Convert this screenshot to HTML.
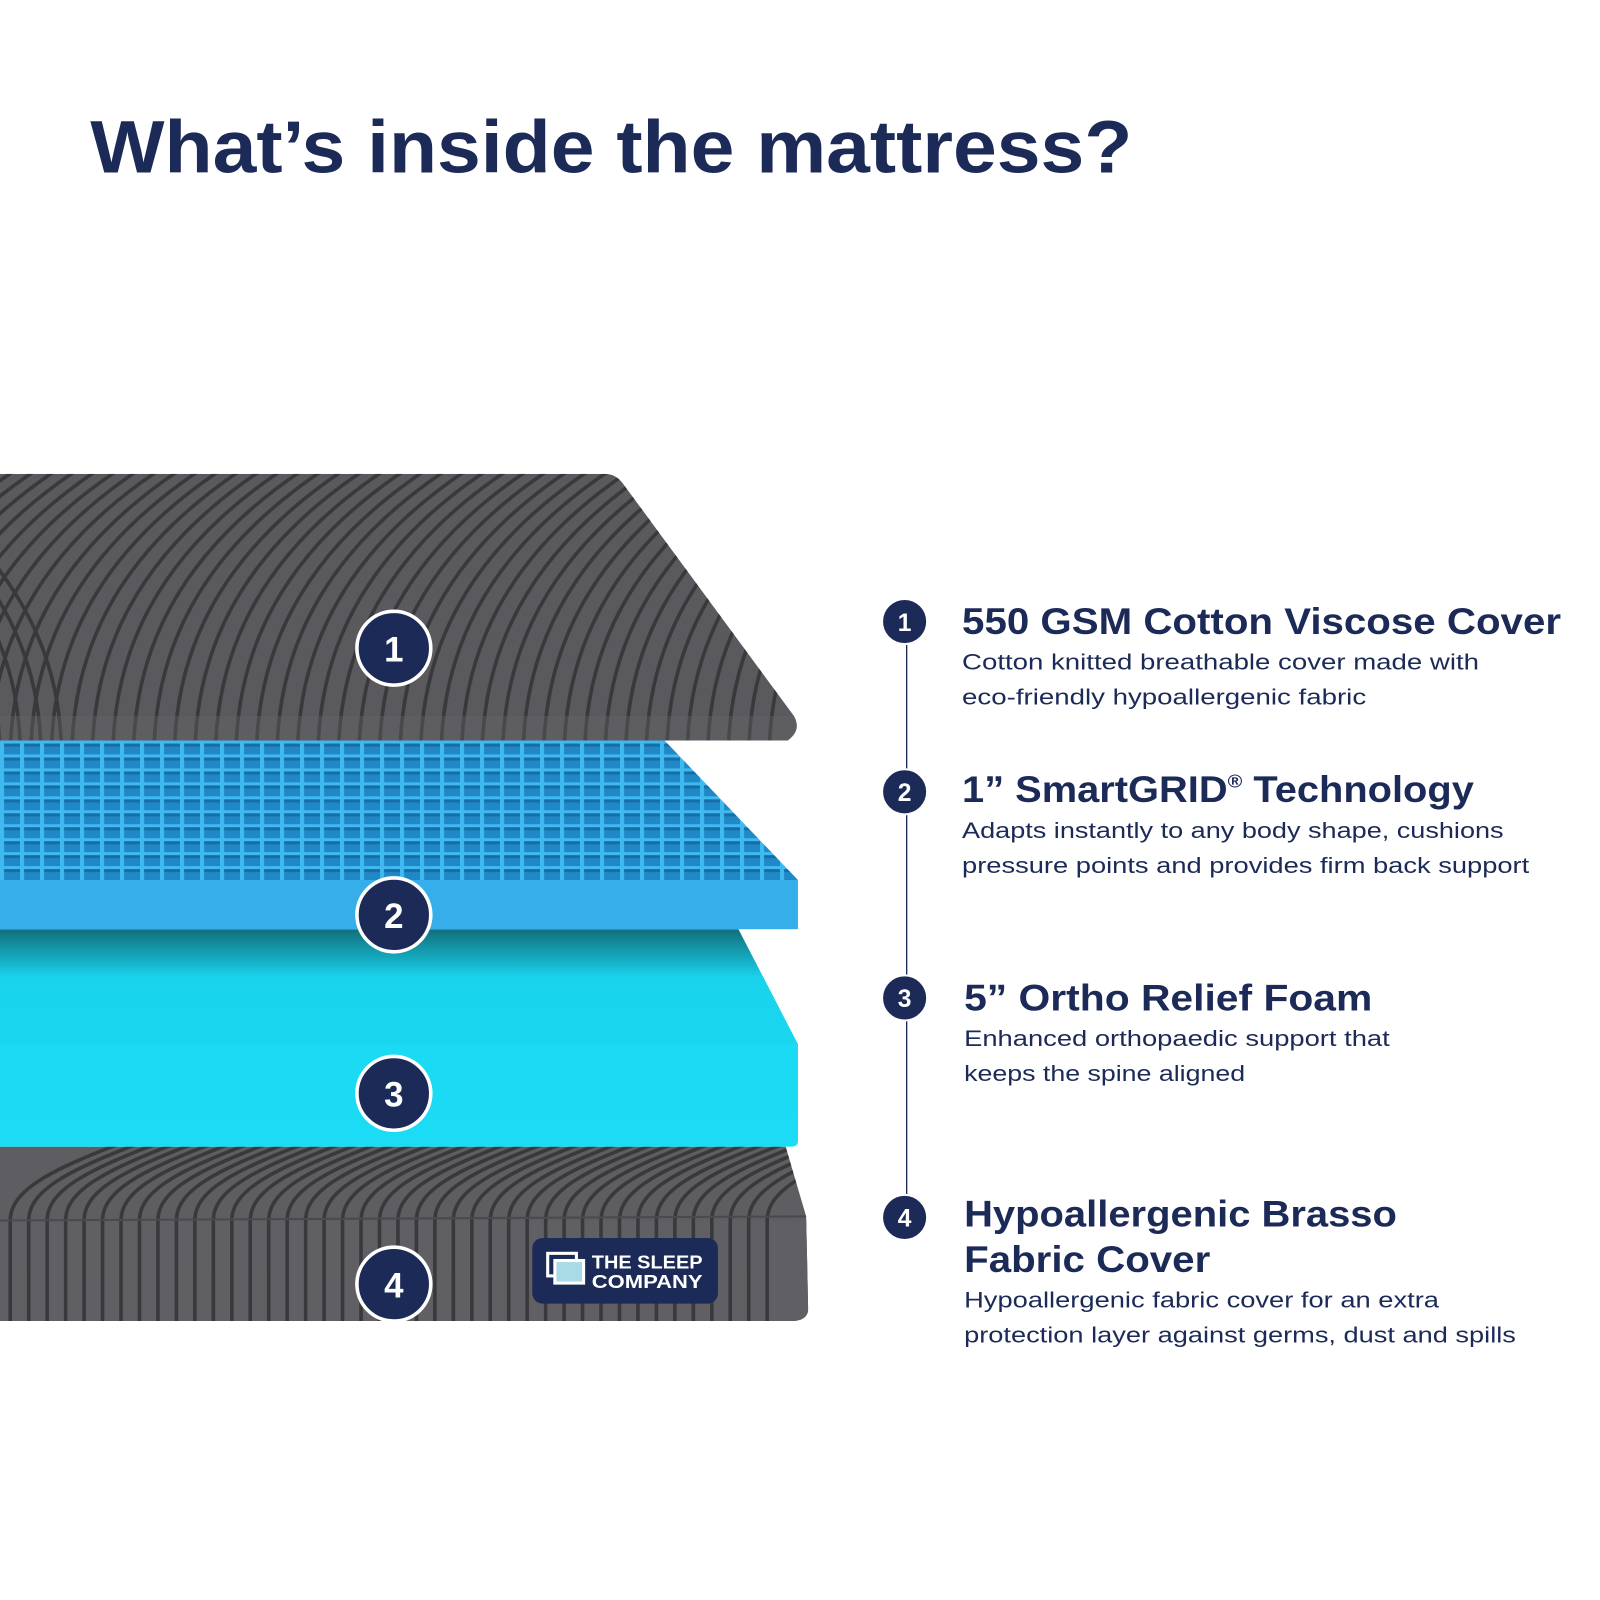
<!DOCTYPE html>
<html><head><meta charset="utf-8"><style>
html,body{margin:0;padding:0;background:#fff;width:1600px;height:1600px;overflow:hidden}
svg{display:block}
</style></head><body>
<svg width="1600" height="1600" viewBox="0 0 1560 1560" xmlns="http://www.w3.org/2000/svg" font-family="'Liberation Sans', sans-serif">
<defs>
  <pattern id="grid" width="19.5" height="13.6" patternUnits="userSpaceOnUse" x="0" y="722">
    <rect width="19.5" height="13.6" fill="#40b8f0"/>
    <rect x="4" y="3" width="15.5" height="10.6" fill="#2088c6"/>
    <rect x="4" y="3" width="15.5" height="3" fill="#176ea6"/>
  </pattern>
  <linearGradient id="foam" x1="0" y1="906" x2="0" y2="1118" gradientUnits="userSpaceOnUse">
    <stop offset="0" stop-color="#106f7c"/>
    <stop offset="0.13" stop-color="#15a8bd"/>
    <stop offset="0.22" stop-color="#19d3ec"/>
    <stop offset="1" stop-color="#1adcf4"/>
  </linearGradient>
  <clipPath id="c1"><path d="M0,462 L590,462 Q600,462 607,471 L774,698 Q782,712 768,722 L0,722 Z"/></clipPath>
  <clipPath id="c4"><path d="M0,1118 L766,1118 L786,1186 L788,1278 Q786,1288 772,1288 L0,1288 Z"/></clipPath>
  <path id="g" d="M0,740 C0,640 40,540 170,455" fill="none" stroke="#39393c" stroke-width="3.5"/>
  <path id="gr" d="M0,740 C0,650 -30,560 -160,455" fill="none" stroke="#39393c" stroke-width="3.5"/>
  <path id="h" d="M0,1300 L0,1190 C0,1160 40,1140 120,1110" fill="none" stroke="#39393c" stroke-width="3.5"/>
</defs>

<text x="88" y="168" font-size="72" font-weight="bold" fill="#1c2a57" textLength="1016" lengthAdjust="spacingAndGlyphs">What’s inside the mattress?</text>

<!-- Layer 4 -->
<g clip-path="url(#c4)">
  <rect x="0" y="1110" width="800" height="190" fill="#5e5e62"/>
  <rect x="0" y="1190" width="800" height="100" fill="#606064"/>
  <g>
    <use href="#h" x="10"/><use href="#h" x="28"/><use href="#h" x="46"/><use href="#h" x="64"/><use href="#h" x="82"/><use href="#h" x="100"/><use href="#h" x="118"/><use href="#h" x="136"/><use href="#h" x="154"/><use href="#h" x="172"/><use href="#h" x="190"/><use href="#h" x="208"/><use href="#h" x="226"/><use href="#h" x="244"/><use href="#h" x="262"/><use href="#h" x="280"/><use href="#h" x="298"/><use href="#h" x="316"/><use href="#h" x="334"/><use href="#h" x="352"/><use href="#h" x="370"/><use href="#h" x="388"/><use href="#h" x="406"/><use href="#h" x="424"/><use href="#h" x="442"/><use href="#h" x="460"/><use href="#h" x="478"/><use href="#h" x="496"/><use href="#h" x="514"/><use href="#h" x="532"/><use href="#h" x="550"/><use href="#h" x="568"/><use href="#h" x="586"/><use href="#h" x="604"/><use href="#h" x="622"/><use href="#h" x="640"/><use href="#h" x="658"/><use href="#h" x="676"/><use href="#h" x="694"/><use href="#h" x="712"/><use href="#h" x="730"/><use href="#h" x="748"/>
  </g>
  <line x1="0" y1="1190" x2="786" y2="1186" stroke="#4a4a4e" stroke-width="2"/>
</g>

<!-- Layer 3 -->
<path d="M0,906 L720,906 L778,1018 L778,1112 Q778,1118 772,1118 L0,1118 Z" fill="url(#foam)"/>
<path d="M0,1018 L778,1018 L778,1112 Q778,1118 772,1118 L0,1118 Z" fill="#1cdcf5" opacity="0.6"/>

<!-- Layer 2 -->
<path d="M0,722 L648,722 L778,858 L0,858 Z" fill="url(#grid)"/>
<rect x="0" y="858" width="778" height="48" fill="#36aeea"/>

<!-- Layer 1 -->
<g clip-path="url(#c1)">
  <rect x="0" y="450" width="800" height="280" fill="#5a5a5e"/>
  <use href="#gr" x="-20"/><use href="#gr" x="0"/><use href="#gr" x="20"/><use href="#gr" x="40"/><use href="#gr" x="60"/>
  <use href="#g" x="-170"/><use href="#g" x="-150"/><use href="#g" x="-130"/><use href="#g" x="-110"/><use href="#g" x="-90"/><use href="#g" x="-70"/><use href="#g" x="-50"/><use href="#g" x="-30"/><use href="#g" x="-10"/><use href="#g" x="10"/><use href="#g" x="30"/><use href="#g" x="50"/><use href="#g" x="70"/><use href="#g" x="90"/><use href="#g" x="110"/><use href="#g" x="130"/><use href="#g" x="150"/>
  <use href="#g" x="170"/><use href="#g" x="190"/><use href="#g" x="210"/><use href="#g" x="230"/><use href="#g" x="250"/><use href="#g" x="270"/><use href="#g" x="290"/><use href="#g" x="310"/><use href="#g" x="330"/><use href="#g" x="350"/><use href="#g" x="370"/><use href="#g" x="390"/><use href="#g" x="410"/><use href="#g" x="430"/><use href="#g" x="450"/><use href="#g" x="470"/><use href="#g" x="490"/><use href="#g" x="510"/><use href="#g" x="530"/><use href="#g" x="550"/><use href="#g" x="570"/><use href="#g" x="590"/><use href="#g" x="610"/><use href="#g" x="630"/><use href="#g" x="650"/><use href="#g" x="670"/><use href="#g" x="690"/><use href="#g" x="710"/><use href="#g" x="730"/><use href="#g" x="750"/>
  <rect x="0" y="698" width="800" height="24" fill="#66666a" opacity="0.35"/>
</g>

<!-- left number circles -->
<g font-weight="bold" font-size="34" fill="#fff" text-anchor="middle">
  <circle cx="384" cy="632" r="36" fill="#1c2a57" stroke="#fff" stroke-width="3.5"/><text x="384" y="645">1</text>
  <circle cx="384" cy="892" r="36" fill="#1c2a57" stroke="#fff" stroke-width="3.5"/><text x="384" y="905">2</text>
  <circle cx="384" cy="1066" r="36" fill="#1c2a57" stroke="#fff" stroke-width="3.5"/><text x="384" y="1079">3</text>
  <circle cx="384" cy="1252" r="36" fill="#1c2a57" stroke="#fff" stroke-width="3.5"/><text x="384" y="1265">4</text>
</g>

<!-- logo -->
<rect x="519" y="1207" width="181" height="64" rx="10" fill="#1c2a57"/>
<rect x="534" y="1222" width="28" height="22" fill="none" stroke="#fff" stroke-width="3"/>
<rect x="541" y="1229" width="28" height="22" fill="#a9dbe6" stroke="#fff" stroke-width="3"/>
<text x="577" y="1237" font-size="18" font-weight="bold" fill="#fff" textLength="108" lengthAdjust="spacingAndGlyphs">THE SLEEP</text>
<text x="577" y="1256" font-size="18" font-weight="bold" fill="#fff" textLength="108" lengthAdjust="spacingAndGlyphs">COMPANY</text>

<!-- right timeline -->
<line x1="884" y1="606" x2="884" y2="1187" stroke="#1c2a57" stroke-width="1.3"/>
<g font-weight="bold" font-size="24" fill="#fff" text-anchor="middle">
  <circle cx="882" cy="606" r="22" fill="#1c2a57" stroke="#fff" stroke-width="2"/><text x="882" y="615">1</text>
  <circle cx="882" cy="772" r="22" fill="#1c2a57" stroke="#fff" stroke-width="2"/><text x="882" y="781">2</text>
  <circle cx="882" cy="973" r="22" fill="#1c2a57" stroke="#fff" stroke-width="2"/><text x="882" y="982">3</text>
  <circle cx="882" cy="1187" r="22" fill="#1c2a57" stroke="#fff" stroke-width="2"/><text x="882" y="1196">4</text>
</g>

<g fill="#1c2a57">
  <text x="938" y="618" font-size="36" font-weight="bold" textLength="584" lengthAdjust="spacingAndGlyphs">550 GSM Cotton Viscose Cover</text>
  <text x="938" y="653" font-size="22" textLength="504" lengthAdjust="spacingAndGlyphs">Cotton knitted breathable cover made with</text>
  <text x="938" y="687" font-size="22" textLength="394" lengthAdjust="spacingAndGlyphs">eco-friendly hypoallergenic fabric</text>

  <text x="938" y="782" font-size="36" font-weight="bold" textLength="499" lengthAdjust="spacingAndGlyphs">1” SmartGRID<tspan font-size="18" dy="-14">®</tspan><tspan dy="14"> Technology</tspan></text>
  <text x="938" y="817" font-size="22" textLength="528" lengthAdjust="spacingAndGlyphs">Adapts instantly to any body shape, cushions</text>
  <text x="938" y="851" font-size="22" textLength="553" lengthAdjust="spacingAndGlyphs">pressure points and provides firm back support</text>

  <text x="940" y="985" font-size="36" font-weight="bold" textLength="398" lengthAdjust="spacingAndGlyphs">5” Ortho Relief Foam</text>
  <text x="940" y="1020" font-size="22" textLength="415" lengthAdjust="spacingAndGlyphs">Enhanced orthopaedic support that</text>
  <text x="940" y="1054" font-size="22" textLength="274" lengthAdjust="spacingAndGlyphs">keeps the spine aligned</text>

  <text x="940" y="1196" font-size="36" font-weight="bold" textLength="422" lengthAdjust="spacingAndGlyphs">Hypoallergenic Brasso</text>
  <text x="940" y="1240" font-size="36" font-weight="bold" textLength="240" lengthAdjust="spacingAndGlyphs">Fabric Cover</text>
  <text x="940" y="1275" font-size="22" textLength="463" lengthAdjust="spacingAndGlyphs">Hypoallergenic fabric cover for an extra</text>
  <text x="940" y="1309" font-size="22" textLength="538" lengthAdjust="spacingAndGlyphs">protection layer against germs, dust and spills</text>
</g>
</svg>
</body></html>
